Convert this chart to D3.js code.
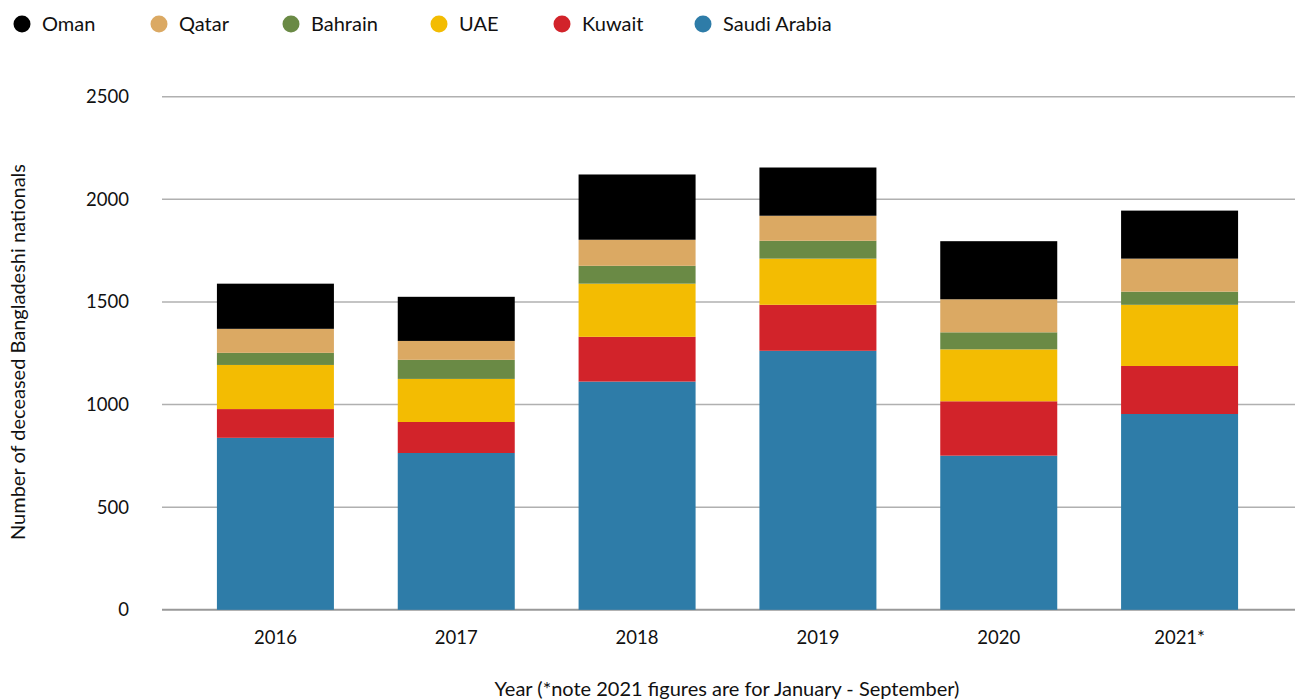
<!DOCTYPE html>
<html>
<head>
<meta charset="utf-8">
<script src="https://cdn.jsdelivr.net/npm/d3@7"></script>
<style>
  html, body { margin: 0; padding: 0; background: #fff; }
  svg { display: block; font-family: Lato, "Open Sans", sans-serif; }
</style>
</head>
<body>
<svg id="chart" width="1295" height="700"></svg>
<script>
const years = ["2016", "2017", "2018", "2019", "2020", "2021*"];
const countries = ["Saudi Arabia", "Kuwait", "UAE", "Bahrain", "Qatar", "Oman"];
const legendOrder = ["Oman", "Qatar", "Bahrain", "UAE", "Kuwait", "Saudi Arabia"];
const saudiArabia = [838, 764, 1112, 1262, 751, 954];
const kuwait      = [140, 151, 218, 224, 265, 234];
const uae         = [215, 210, 259, 225, 253, 298];
const bahrain     = [59, 93, 87, 87, 83, 64];
const qatar       = [117, 92, 127, 122, 161, 161];
const oman        = [220, 215, 318, 235, 283, 234];
const yTicks = [0, 500, 1000, 1500, 2000, 2500];
const colors = {
  "Oman": "#000000", "Qatar": "#DBA963", "Bahrain": "#6A8A45",
  "UAE": "#F3BC02", "Kuwait": "#D2232A", "Saudi Arabia": "#2E7CA8"
};
const seriesValues = {
  "Saudi Arabia": saudiArabia, "Kuwait": kuwait, "UAE": uae,
  "Bahrain": bahrain, "Qatar": qatar, "Oman": oman
};

const table = years.map((y, i) => {
  const row = { year: y };
  countries.forEach(c => row[c] = seriesValues[c][i]);
  return row;
});

const svg = d3.select("#chart");
const x = d3.scaleBand().domain(years).range([185, 1270]).paddingInner(0.353).paddingOuter(0.1765);
const y = d3.scaleLinear().domain([0, 2500]).range([609.8, 96.7]);

// gridlines
svg.append("g").selectAll("line").data(yTicks).join("line")
  .attr("x1", 162).attr("x2", 1295)
  .attr("y1", d => y(d)).attr("y2", d => y(d))
  .attr("stroke", d => d === 0 ? "#999" : "#b0b0b0")
  .attr("stroke-width", d => d === 0 ? 2 : 1.5);

// y tick labels
svg.append("g").selectAll("text").data(yTicks).join("text")
  .attr("x", 129).attr("y", d => y(d)).attr("dy", "0.35em")
  .attr("text-anchor", "end").attr("font-size", 18.5).attr("fill", "#111")
  .text(d => d);

// stacked bars
const stack = d3.stack().keys(countries)(table);
svg.append("g").selectAll("g").data(stack).join("g")
  .attr("fill", d => colors[d.key])
  .selectAll("rect").data(d => d).join("rect")
  .attr("x", d => x(d.data.year))
  .attr("width", x.bandwidth())
  .attr("y", d => y(d[1]))
  .attr("height", d => y(d[0]) - y(d[1]));

// x labels
svg.append("g").selectAll("text").data(years).join("text")
  .attr("x", d => x(d) + x.bandwidth() / 2).attr("y", 638).attr("dy", "0.35em")
  .attr("text-anchor", "middle").attr("font-size", 18.5).attr("fill", "#111")
  .text(d => d);

// axis titles
svg.append("text")
  .attr("x", 727).attr("y", 689).attr("dy", "0.35em")
  .attr("text-anchor", "middle").attr("font-size", 20).attr("fill", "#111")
  .text("Year (*note 2021 figures are for January - September)");
svg.append("text")
  .attr("transform", "translate(18,352) rotate(-90)").attr("dy", "0.35em")
  .attr("text-anchor", "middle").attr("font-size", 20).attr("fill", "#111")
  .text("Number of deceased Bangladeshi nationals");

// legend
const legendX = [22, 159, 291, 439, 562, 703];
const lg = svg.append("g").selectAll("g").data(legendOrder).join("g")
  .attr("transform", (d, i) => `translate(${legendX[i]},24)`);
lg.append("circle").attr("r", 8.5).attr("fill", d => colors[d]);
lg.append("text").attr("x", 20).attr("dy", "0.35em")
  .attr("font-size", 20).attr("fill", "#111").text(d => d);
</script>
</body>
</html>
